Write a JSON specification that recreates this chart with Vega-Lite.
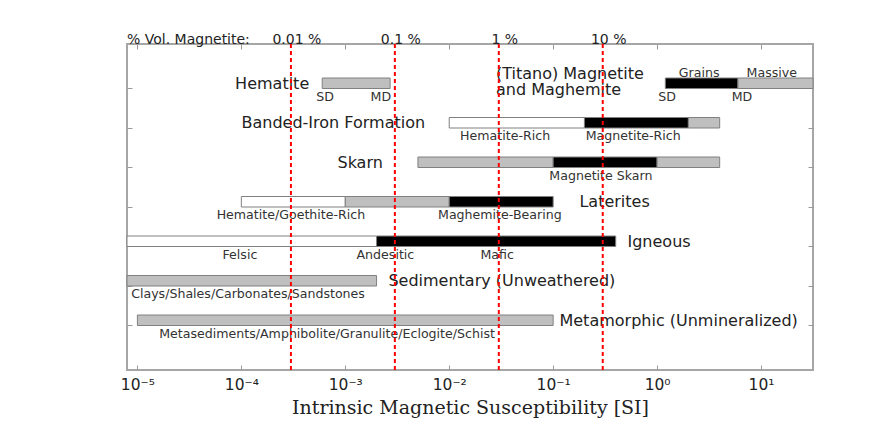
{
  "$schema": "https://vega.github.io/schema/vega-lite/v6.json",
  "width": 686,
  "height": 326,
  "autosize": "none",
  "padding": {"left": 127, "top": 44, "right": 73, "bottom": 52},
  "background": "white",
  "config": {
    "view": {"stroke": "#a6a6a6", "strokeWidth": 2},
    "font": "DejaVu Sans",
    "axis": {"grid": false, "domain": false, "tickColor": "#9a9a9a", "tickWidth": 1}
  },
  "datasets": {
    "segments": [
      {"row": 1, "from": 0.0006, "to": 0.0027, "tone": "gray"},
      {"row": 1, "from": 1.2, "to": 6, "tone": "black"},
      {"row": 1, "from": 6, "to": 31.62, "tone": "gray"},
      {"row": 2, "from": 0.01, "to": 0.2, "tone": "white"},
      {"row": 2, "from": 0.2, "to": 2, "tone": "black"},
      {"row": 2, "from": 2, "to": 4, "tone": "gray"},
      {"row": 3, "from": 0.005, "to": 0.1, "tone": "gray"},
      {"row": 3, "from": 0.1, "to": 1, "tone": "black"},
      {"row": 3, "from": 1, "to": 4, "tone": "gray"},
      {"row": 4, "from": 0.0001, "to": 0.001, "tone": "white"},
      {"row": 4, "from": 0.001, "to": 0.01, "tone": "gray"},
      {"row": 4, "from": 0.01, "to": 0.1, "tone": "black"},
      {"row": 5, "from": 0.000007943, "to": 0.002, "tone": "white"},
      {"row": 5, "from": 0.002, "to": 0.4, "tone": "black"},
      {"row": 6, "from": 0.000007943, "to": 0.002, "tone": "gray"},
      {"row": 7, "from": 0.00001, "to": 0.1, "tone": "gray"}
    ],
    "labels": [
      {"kind": "title-r", "x": 0.00045, "row": 1, "text": "Hematite"},
      {"kind": "title-r", "x": 0.00586, "row": 2, "text": "Banded-Iron Formation"},
      {"kind": "title-r", "x": 0.0023, "row": 3, "text": "Skarn"},
      {"kind": "title-2", "x": 0.0282, "row": 1, "text": "(Titano) Magnetite\nand Maghemite"},
      {"kind": "title-l", "x": 0.179, "row": 4, "text": "Laterites"},
      {"kind": "title-l", "x": 0.519, "row": 5, "text": "Igneous"},
      {"kind": "title-l", "x": 0.0026, "row": 6, "text": "Sedimentary (Unweathered)"},
      {"kind": "title-l", "x": 0.115, "row": 7, "text": "Metamorphic (Unmineralized)"},
      {"kind": "below", "x": 0.00064, "row": 1, "text": "SD"},
      {"kind": "below", "x": 0.0022, "row": 1, "text": "MD"},
      {"kind": "below", "x": 1.25, "row": 1, "text": "SD"},
      {"kind": "below", "x": 6.55, "row": 1, "text": "MD"},
      {"kind": "below", "x": 0.0345, "row": 2, "text": "Hematite-Rich"},
      {"kind": "below", "x": 0.589, "row": 2, "text": "Magnetite-Rich"},
      {"kind": "below", "x": 0.288, "row": 3, "text": "Magnetite Skarn"},
      {"kind": "below", "x": 0.0003, "row": 4, "text": "Hematite/Goethite-Rich"},
      {"kind": "below", "x": 0.0307, "row": 4, "text": "Maghemite-Bearing"},
      {"kind": "below", "x": 0.000097, "row": 5, "text": "Felsic"},
      {"kind": "below", "x": 0.00243, "row": 5, "text": "Andesitic"},
      {"kind": "below", "x": 0.0289, "row": 5, "text": "Mafic"},
      {"kind": "below", "x": 0.000116, "row": 6, "text": "Clays/Shales/Carbonates/Sandstones"},
      {"kind": "below", "x": 0.000668, "row": 7, "text": "Metasediments/Amphibolite/Granulite/Eclogite/Schist"},
      {"kind": "above", "x": 2.54, "row": 1, "text": "Grains"},
      {"kind": "above", "x": 12.7, "row": 1, "text": "Massive"}
    ],
    "lines": [
      {"value": 0.0003, "pct": "0.01 %"},
      {"value": 0.003, "pct": "0.1 %"},
      {"value": 0.03, "pct": "1 %"},
      {"value": 0.3, "pct": "10 %"}
    ]
  },
  "layer": [
    {
      "data": {"name": "segments"},
      "mark": {"type": "bar", "orient": "horizontal", "size": 10.5, "yOffset": -5.25, "stroke": "#808080", "strokeWidth": 1},
      "encoding": {
        "x": {
          "field": "from", "type": "quantitative",
          "scale": {"type": "log", "domain": [0.000007943, 31.62], "nice": false},
          "axis": {
            "orient": "bottom",
            "values": [0.00001, 0.0001, 0.001, 0.01, 0.1, 1, 10],
            "labelExpr": "['10⁻⁵','10⁻⁴','10⁻³','10⁻²','10⁻¹','10⁰','10¹'][round(log(datum.value)/LN10)+5]",
            "tickSize": -5,
            "labelPadding": 12,
            "labelFont": "DejaVu Sans",
            "labelFontSize": 15.5,
            "labelColor": "#222222",
            "title": "Intrinsic Magnetic Susceptibility [SI]",
            "titleFont": "DejaVu Serif",
            "titleFontSize": 19,
            "titleFontWeight": "normal",
            "titleColor": "#222222",
            "titlePadding": 6
          }
        },
        "x2": {"field": "to"},
        "y": {
          "field": "row", "type": "quantitative",
          "scale": {"domain": [0, 8], "reverse": true, "nice": false, "zero": false},
          "axis": {"orient": "left", "values": [1, 2, 3, 4, 5, 6, 7], "labels": false, "tickSize": -5, "title": null}
        },
        "fill": {
          "field": "tone", "type": "nominal",
          "scale": {"domain": ["white", "gray", "black"], "range": ["#ffffff", "#bfbfbf", "#000000"]},
          "legend": null
        }
      }
    },
    {
      "data": {"name": "labels"},
      "transform": [{"filter": "datum.kind === 'below'"}],
      "mark": {"type": "text", "align": "center", "baseline": "middle", "dy": 8, "fontSize": 12.6, "color": "#333333"},
      "encoding": {
        "x": {
          "field": "x", "type": "quantitative",
          "axis": {"orient": "top", "values": [0.00001, 0.0001, 0.001, 0.01, 0.1, 1, 10], "labels": false, "tickSize": -5, "title": null}
        },
        "y": {
          "field": "row", "type": "quantitative",
          "axis": {"orient": "right", "values": [1, 2, 3, 4, 5, 6, 7], "labels": false, "tickSize": -5, "title": null}
        },
        "text": {"field": "text"}
      }
    },
    {
      "data": {"name": "labels"},
      "transform": [{"filter": "datum.kind === 'above'"}],
      "mark": {"type": "text", "align": "center", "baseline": "middle", "dy": -16, "fontSize": 12.6, "color": "#333333"},
      "encoding": {
        "x": {"field": "x", "type": "quantitative", "axis": null},
        "y": {"field": "row", "type": "quantitative", "axis": null},
        "text": {"field": "text"}
      }
    },
    {
      "data": {"name": "labels"},
      "transform": [{"filter": "datum.kind === 'title-r'"}],
      "mark": {"type": "text", "align": "right", "baseline": "middle", "dy": -5, "fontSize": 16, "color": "#222222"},
      "encoding": {
        "x": {"field": "x", "type": "quantitative", "axis": null},
        "y": {"field": "row", "type": "quantitative", "axis": null},
        "text": {"field": "text"}
      }
    },
    {
      "data": {"name": "labels"},
      "transform": [{"filter": "datum.kind === 'title-l'"}],
      "mark": {"type": "text", "align": "left", "baseline": "middle", "dy": -5, "fontSize": 16, "color": "#222222"},
      "encoding": {
        "x": {"field": "x", "type": "quantitative", "axis": null},
        "y": {"field": "row", "type": "quantitative", "axis": null},
        "text": {"field": "text"}
      }
    },
    {
      "data": {"name": "labels"},
      "transform": [{"filter": "datum.kind === 'title-2'"}],
      "mark": {"type": "text", "align": "left", "baseline": "middle", "dy": -14.5, "fontSize": 16, "color": "#222222", "lineBreak": "\n", "lineHeight": 15.5},
      "encoding": {
        "x": {"field": "x", "type": "quantitative", "axis": null},
        "y": {"field": "row", "type": "quantitative", "axis": null},
        "text": {"field": "text"}
      }
    },
    {
      "data": {"name": "lines"},
      "mark": {"type": "text", "align": "center", "baseline": "middle", "dx": 6, "dy": -9, "fontSize": 14, "color": "#222222"},
      "encoding": {
        "x": {"field": "value", "type": "quantitative", "axis": null},
        "y": {"datum": 0, "type": "quantitative", "axis": null},
        "text": {"field": "pct"}
      }
    },
    {
      "data": {"values": [{"caption": "% Vol. Magnetite:"}]},
      "mark": {"type": "text", "align": "left", "baseline": "middle", "dy": -9, "fontSize": 14, "color": "#222222"},
      "encoding": {
        "x": {"datum": 0.000007943, "type": "quantitative", "axis": null},
        "y": {"datum": 0, "type": "quantitative", "axis": null},
        "text": {"field": "caption"}
      }
    },
    {
      "data": {"name": "lines"},
      "mark": {"type": "rule", "color": "#ff0000", "strokeWidth": 2, "strokeDash": [4, 3]},
      "encoding": {
        "x": {"field": "value", "type": "quantitative", "axis": null}
      }
    }
  ],
  "resolve": {"axis": {"x": "independent", "y": "independent"}}
}
